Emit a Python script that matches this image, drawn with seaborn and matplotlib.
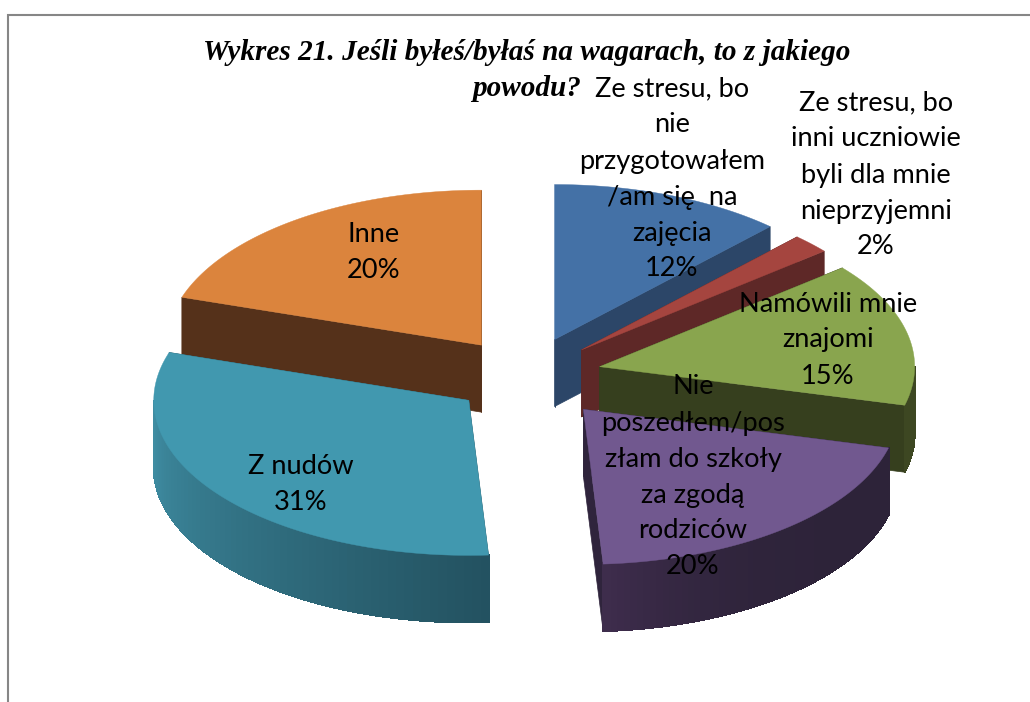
import numpy as np
import matplotlib
matplotlib.use("Agg")
import matplotlib.pyplot as plt
from matplotlib.colors import to_rgb
import seaborn as sns

# ---- data ----
labels = [
    "Ze stresu, bo\nnie\nprzygotowałem\n/am się  na\nzajęcia",
    "Ze stresu, bo\ninni uczniowie\nbyli dla mnie\nnieprzyjemni",
    "Namówili mnie\nznajomi",
    "Nie\nposzedłem/pos\nzłam do szkoły\nza zgodą\nrodziców",
    "Z nudów",
    "Inne",
]
values = [12, 2, 15, 20, 31, 20]
title_lines = ["Wykres 21. Jeśli byłeś/byłaś na wagarach, to z jakiego", "powodu?"]

# ---- styles ----
top_colors = ["#4471a6", "#a5453f", "#89a54e", "#71588f", "#4198af", "#db843d"]
cut_colors = ["#2c4668", "#5e2827", "#363f1e", "#2f243c", "#2c5a68", "#55311a"]
rim_start = ["#2c4668", "#5e2827", "#3d4722", "#2d2339", "#235260", "#55311a"]
rim_end = ["#2c4668", "#5e2827", "#3d4722", "#3f2d4d", "#3f8da3", "#55311a"]
rim_power = [1, 1, 1, 4, 1, 1]
label_xy = [(672, 179), (876, 175), (828, 340), (693, 477), (301, 485), (374, 252)]
nudge = [(0, 0), (-1, 1), (-2, 0), (8, 5), (4, 2), (1, 1)]
draw_order = [5, 0, 1, 2, 4, 3]

CX, CY, RX, RY, DEPTH, EXPLODE = 526, 375, 315, 155, 67, 0.246

sns.set_theme(style="white")
fig, ax = plt.subplots(figsize=(10.3, 7.02), dpi=100)
fig.subplots_adjust(0, 0, 1, 1)
ax.set_xlim(0, 1030)
ax.set_ylim(702, 0)
ax.axis("off")

ax.plot([8, 8, 1030], [702, 15, 15], color="#868686", lw=1.5, solid_joinstyle="miter", zorder=1)


def pt(ox, oy, th):
    return ox + RX * np.sin(th), oy - RY * np.cos(th)


fracs = np.array(values) / sum(values)
edges = np.concatenate([[0], np.cumsum(fracs)]) * 2 * np.pi

for i in draw_order:
    a0, a1 = edges[i], edges[i + 1]
    mid = (a0 + a1) / 2
    ox = CX + RX * EXPLODE * np.sin(mid) + nudge[i][0]
    oy = CY - RY * EXPLODE * np.cos(mid) + nudge[i][1]
    z = 10 + draw_order.index(i) * 10
    # cut faces
    for a in (a0, a1):
        x1, y1 = pt(ox, oy, a)
        ax.fill([ox, x1, x1, ox], [oy, y1, y1 + DEPTH, oy + DEPTH],
                color=cut_colors[i], lw=0.5, zorder=z)
    # rim on the front half
    lo, hi = max(a0, np.pi / 2), min(a1, 3 * np.pi / 2)
    if hi > lo:
        grid = np.linspace(lo, hi, 61)
        c0, c1 = np.array(to_rgb(rim_start[i])), np.array(to_rgb(rim_end[i]))
        for k in range(60):
            t = ((k + 0.5) / 60) ** rim_power[i]
            col = c0 + (c1 - c0) * t
            x0, y0 = pt(ox, oy, grid[k])
            x1, y1 = pt(ox, oy, grid[k + 1])
            ax.fill([x0, x1, x1, x0], [y0, y1, y1 + DEPTH, y0 + DEPTH],
                    color=col, lw=0.8, antialiased=False, zorder=z + 1)
    # top face
    th = np.linspace(a0, a1, 200)
    xs, ys = pt(ox, oy, th)
    ax.fill(np.r_[ox, xs], np.r_[oy, ys], color=top_colors[i], lw=0.3, zorder=z + 2)

for lab, v, (x, y) in zip(labels, values, label_xy):
    ax.text(x, y, f"{lab}\n{v}%", ha="center", va="center", multialignment="center",
            family="Lato", fontsize=19.6, color="black", linespacing=1.55, zorder=200)

for line, y in zip(title_lines, (53, 88)):
    ax.text(526.5, y, line, ha="center", va="center",
            family="Liberation Serif", fontsize=21.1, weight="bold", style="italic",
            color="black", zorder=201)

fig.savefig("out.png", dpi=100, facecolor="white")
